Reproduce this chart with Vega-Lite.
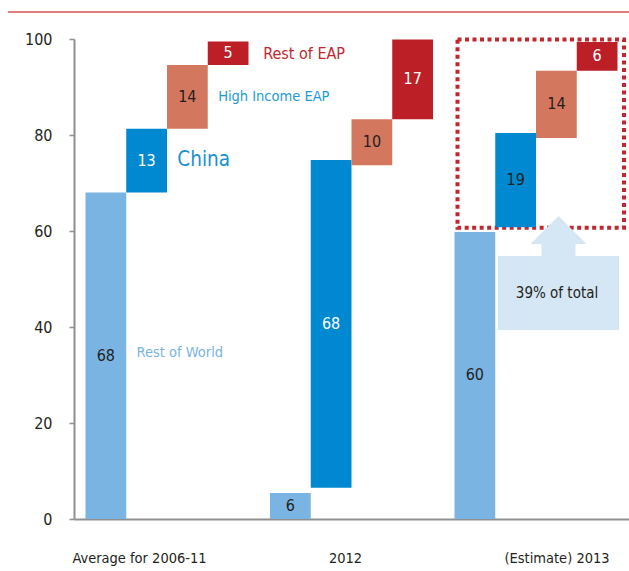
{
  "$schema": "https://vega.github.io/schema/vega-lite/v6.json",
  "width": 621,
  "height": 507,
  "autosize": {"type": "none"},
  "padding": {"left": 8, "top": 12, "right": 0, "bottom": 52},
  "config": {
    "view": {"stroke": null},
    "font": "DejaVu Sans Condensed, Liberation Sans, sans-serif"
  },
  "datasets": {
    "bars": [
      {"group": "Average for 2006-11", "series": "Rest of World", "start": 0, "end": 68, "label": 68},
      {"group": "Average for 2006-11", "series": "China", "start": 68, "end": 81.3, "label": 13},
      {"group": "Average for 2006-11", "series": "High Income EAP", "start": 81.3, "end": 94.6, "label": 14},
      {"group": "Average for 2006-11", "series": "Rest of EAP", "start": 94.6, "end": 99.5, "label": 5},
      {"group": "2012", "series": "Rest of World", "start": 0, "end": 5.4, "label": 6},
      {"group": "2012", "series": "China", "start": 6.5, "end": 74.8, "label": 68},
      {"group": "2012", "series": "High Income EAP", "start": 73.7, "end": 83.3, "label": 10},
      {"group": "2012", "series": "Rest of EAP", "start": 83.3, "end": 99.9, "label": 17},
      {"group": "(Estimate) 2013", "series": "Rest of World", "start": 0, "end": 59.8, "label": 60},
      {"group": "(Estimate) 2013", "series": "China", "start": 60.8, "end": 80.4, "label": 19},
      {"group": "(Estimate) 2013", "series": "High Income EAP", "start": 79.4, "end": 93.4, "label": 14},
      {"group": "(Estimate) 2013", "series": "Rest of EAP", "start": 93.4, "end": 99.4, "label": 6}
    ],
    "names": [
      {"group": "Average for 2006-11", "series": "China", "value": 34.6, "name": "Rest of World"},
      {"group": "Average for 2006-11", "series": "High Income EAP", "value": 74.8, "name": "China"},
      {"group": "Average for 2006-11", "series": "Rest of EAP", "value": 88, "name": "High Income EAP"},
      {"group": "Average for 2006-11", "series": "Rest of EAP", "value": 96.9, "name": "Rest of EAP"}
    ]
  },
  "layer": [
    {
      "data": {"values": [{"note": "top rule"}]},
      "mark": {"type": "rule", "color": "#d9534f", "strokeWidth": 1.5},
      "encoding": {"y": {"datum": 105.6, "type": "quantitative"}}
    },
    {
      "data": {"values": [{"note": "estimate box"}]},
      "mark": {"type": "bar", "filled": false, "stroke": "#c1272d", "strokeWidth": 4, "strokeDash": [4, 3.5], "width": 166.5, "xOffset": 4.75},
      "encoding": {
        "x": {"datum": "(Estimate) 2013", "type": "nominal"},
        "y": {"datum": 60.7, "type": "quantitative"},
        "y2": {"datum": 99.9}
      }
    },
    {
      "data": {"name": "bars"},
      "mark": {"type": "bar", "xOffset": {"expr": "datum.series === 'China' ? (datum.group === '2012' ? -5 : (datum.group === '(Estimate) 2013' ? -8 : 0)) : 0"}},
      "encoding": {
        "x": {
          "field": "group", "type": "nominal",
          "scale": {"domain": ["Average for 2006-11", "2012", "(Estimate) 2013"], "range": [66, 621], "paddingInner": 0.1165, "paddingOuter": 0.0623},
          "axis": {
            "title": null, "ticks": false, "tickSize": 0, "domainColor": "#8f8f8f", "domainWidth": 2,
            "labelPadding": 39, "labelBaseline": "middle", "labelAlign": "center", "labelFontSize": 14.5, "labelColor": "#231f20", "labelAngle": 0,
            "labelOffset": {"condition": [{"test": "datum.value === 'Average for 2006-11'", "value": -27.5}, {"test": "datum.value === '2012'", "value": -6}], "value": 21}
          }
        },
        "xOffset": {
          "field": "series", "type": "nominal",
          "scale": {"domain": ["Rest of World", "China", "High Income EAP", "Rest of EAP"], "paddingInner": 0, "paddingOuter": 0}
        },
        "y": {
          "field": "start", "type": "quantitative",
          "scale": {"domain": [0, 100], "range": [507, 27], "nice": false, "zero": true},
          "axis": {
            "title": null, "values": [0, 20, 40, 60, 80, 100], "offset": -66, "grid": false,
            "domainColor": "#8f8f8f", "domainWidth": 2, "tickColor": "#8f8f8f", "tickWidth": 1.5, "tickSize": 5,
            "labelPadding": 17, "labelFontSize": 16, "labelColor": "#231f20"
          }
        },
        "y2": {"field": "end"},
        "color": {
          "field": "series", "type": "nominal",
          "scale": {"domain": ["Rest of World", "China", "High Income EAP", "Rest of EAP"], "range": ["#7ab4e2", "#0089d0", "#d4775f", "#bd1f27"]},
          "legend": null
        }
      }
    },
    {
      "data": {"values": [{"note": "callout"}]},
      "mark": {"type": "bar", "color": "#d5e6f5", "width": 121, "xOffset": 22.5},
      "encoding": {
        "x": {"datum": "(Estimate) 2013", "type": "nominal"},
        "y": {"datum": 39.4, "type": "quantitative"},
        "y2": {"datum": 54.8}
      }
    },
    {
      "data": {"values": [{"note": "arrow"}]},
      "mark": {"type": "point", "filled": true, "opacity": 1, "color": "#d5e6f5", "strokeWidth": 0, "size": 3136, "xOffset": 22.5,
        "shape": "M0,-0.714L1,0.286L0.607,0.286L0.607,0.75L-0.607,0.75L-0.607,0.286L-1,0.286Z"},
      "encoding": {
        "x": {"datum": "(Estimate) 2013", "type": "nominal"},
        "y": {"datum": 58.96, "type": "quantitative"}
      }
    },
    {
      "data": {"values": [{"text": "39% of total"}]},
      "mark": {"type": "text", "fontSize": 15, "color": "#231f20", "baseline": "middle", "xOffset": 21},
      "encoding": {
        "x": {"datum": "(Estimate) 2013", "type": "nominal"},
        "y": {"datum": 47.1, "type": "quantitative"},
        "text": {"field": "text"}
      }
    },
    {
      "data": {"name": "bars"},
      "transform": [{"fold": ["start", "end"], "as": ["k", "v"]}],
      "mark": {"type": "text", "fontSize": 16, "baseline": "middle", "xOffset": {"expr": "datum.series === 'China' ? (datum.group === '2012' ? -5 : (datum.group === '(Estimate) 2013' ? -8 : 0)) : 0"}},
      "encoding": {
        "x": {"field": "group", "type": "nominal"},
        "xOffset": {"field": "series", "type": "nominal"},
        "y": {"aggregate": "mean", "field": "v", "type": "quantitative"},
        "text": {"field": "label", "type": "quantitative"},
        "color": {"condition": {"test": "datum.series === 'Rest of EAP' || (datum.series === 'China' && datum.group !== '(Estimate) 2013')", "value": "#ffffff"}, "value": "#231f20"}
      }
    },
    {
      "data": {"name": "names"},
      "transform": [{"filter": "datum.name !== 'Rest of EAP'"}],
      "mark": {"type": "text", "align": "left", "baseline": "middle", "dx": -10},
      "encoding": {
        "x": {"field": "group", "type": "nominal"},
        "xOffset": {"field": "series", "type": "nominal"},
        "y": {"field": "value", "type": "quantitative"},
        "text": {"field": "name"},
        "size": {"condition": {"test": "datum.name === 'China'", "value": 20.5}, "value": 14.5},
        "color": {"condition": [{"test": "datum.name === 'Rest of World'", "value": "#7ab4e2"}, {"test": "datum.name === 'China'", "value": "#1b8fd2"}], "value": "#1e9ad6"}
      }
    },
    {
      "data": {"name": "names"},
      "transform": [{"filter": "datum.name === 'Rest of EAP'"}],
      "mark": {"type": "text", "align": "left", "baseline": "middle", "dx": 35, "fontSize": 16, "color": "#c1272d"},
      "encoding": {
        "x": {"field": "group", "type": "nominal"},
        "xOffset": {"field": "series", "type": "nominal"},
        "y": {"field": "value", "type": "quantitative"},
        "text": {"field": "name"}
      }
    }
  ]
}
